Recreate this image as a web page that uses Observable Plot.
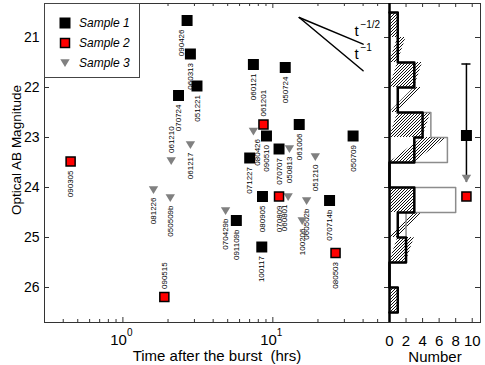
<!DOCTYPE html>
<html><head><meta charset="utf-8">
<script src="https://cdn.jsdelivr.net/npm/d3@7"></script>
<script src="https://cdn.jsdelivr.net/npm/@observablehq/plot@0.6"></script>
<style>
html,body{margin:0;padding:0;background:#fff;}
#wrap{position:relative;width:485px;height:365px;overflow:hidden;font-family:"Liberation Sans",Arial,Helvetica,sans-serif;}
#wrap > svg{position:absolute;top:0;}
#legend{position:absolute;left:44px;top:3px;width:96px;height:75px;border:1px solid #444;background:#fff;box-sizing:border-box;}
.li{position:absolute;left:0;height:16px;display:flex;align-items:center;font-style:italic;font-size:12px;white-space:nowrap;}
.li svg{margin-left:14px;margin-right:8px;}
</style></head><body><div id="wrap"></div>
<script>
// ---------- data ----------
// Sample 1 (black squares)
const s1Names = ["090426","060313","051221","070724","060121","050724","090510","071227","070707","061006","050709","080905","070714b","091109b","100117"];
const s1Time  = [2.68, 2.82, 3.12, 2.35, 7.42, 12.1, 9.07, 7.01, 11.0, 15.0, 34.3, 8.53, 23.9, 5.71, 8.44];
const s1Mag   = [20.66, 21.33, 21.97, 22.16, 21.54, 21.60, 22.97, 23.41, 23.23, 22.74, 22.97, 24.18, 24.26, 24.66, 25.19];
// Sample 2 (red squares)
const s2Names = ["090305","090515","061201","070809","080503"];
const s2Time  = [0.448, 1.89, 8.66, 11.0, 26.2];
const s2Mag   = [23.48, 26.19, 22.74, 24.18, 25.31];
// Sample 3 (grey triangles, upper limits)
const s3Names = ["061210","061217","081226","050509b","080426","050813","051210","060801","060502b","070429b","100206"];
const s3Time  = [2.10, 2.82, 1.60, 2.07, 7.42, 12.9, 19.2, 12.65, 16.8, 4.84, 15.7];
const s3Mag   = [23.47, 23.15, 24.05, 24.21, 22.88, 23.23, 23.39, 24.19, 24.27, 24.47, 24.67];
const labelsAbove = ["061210","061201","090515"];
// small sideways nudges (px) for crowded labels
const labelNudgeNames = ["090426","080426","060801"];
const labelNudgePx = [-6, 4, -4];

// Legend
const legendLabels = ["Sample 1","Sample 2","Sample 3"];

// Decay slope guides
const slopeT = [15, 40];
const slopeIdx = [0.5, 1];
const slopeMag0 = 20.6;
const slopeLabelT = [35, 35];
const slopeLabelMag = [20.96, 21.43];
const slopeLabelBase = ["t","t"];
const slopeLabelExp = ["\u22121/2","\u22121"];

// Histogram bins
const magBins = [20.5,21,21.5,22,22.5,23,23.5,24,24.5,25,25.5,26,26.5];

// Summary markers (right panel)
const sumCount = 9.3;
const sumMag = [22.96, 23.82, 24.18];   // sample 1, 3, 2
const errTop = 21.53, errBottom = 23.9;

// Axes
const xMajor = [1, 10];
const xMinor = [0.3,0.4,0.5,0.6,0.7,0.8,0.9,2,3,4,5,6,7,8,9,20,30,40,50,60];
const xTickBase = ["10","10"];
const xTickExp = ["0","1"];
const yTicks = [21,22,23,24,25,26];
const countTicks = [0,2,4,6,8,10];
const xTitle = "Time after the burst\u00a0 (hrs)";
const yTitle = "Optical AB Magnitude";
const histTitle = "Number";

// ---------- build ----------
const FONT = '"Liberation Sans", Arial, Helvetica, sans-serif';
const H = 365, mt = 3, mb = 43;
const frameH = H - mt - mb;
const W = 390, ml = 44, mr = 1, frameW = W - ml - mr;
const yDomain = [26.7, 20.32];

const s1 = s1Names.map((n,i)=>({name:n, t:s1Time[i], mag:s1Mag[i], sample:1}));
const s2 = s2Names.map((n,i)=>({name:n, t:s2Time[i], mag:s2Mag[i], sample:2}));
const s3 = s3Names.map((n,i)=>({name:n, t:s3Time[i], mag:s3Mag[i], sample:3}));
const rows = [...s1, ...s2, ...s3];

const triDown = {draw(ctx, size){ const k = Math.sqrt(size/Math.PI); ctx.moveTo(-k,-0.8*k); ctx.lineTo(k,-0.8*k); ctx.lineTo(0,0.85*k); ctx.closePath(); }};

// label marks (grouped by placement and nudge)
const labelMarks = [];
const nudgeOf = n => { const i = labelNudgeNames.indexOf(n); return i < 0 ? 0 : labelNudgePx[i]; };
const groups = d3.groups(rows, d => [labelsAbove.includes(d.name) ? "a" : (d.sample === 3 ? "t" : "s"), nudgeOf(d.name)].join("|"));
for (const [key, data] of groups) {
  const [kind, nd] = key.split("|");
  const above = kind === "a";
  labelMarks.push(Plot.text(data, {
    x: "t", y: "mag", text: "name", rotate: -90, fontSize: 8,
    textAnchor: above ? "start" : "end",
    dy: above ? -8 : (kind === "t" ? 7.5 : 9),
    dx: +nd
  }));
}

const slopeRows = [];
slopeIdx.forEach(a => slopeT.forEach(t => slopeRows.push({a, t, mag: slopeMag0 + 2.5*a*Math.log10(t/slopeT[0])})));
const slopeLabels = slopeLabelT.map((t,i)=>({t, mag:slopeLabelMag[i], base:slopeLabelBase[i], exp:slopeLabelExp[i]}));

const tickStroke = "#333";
const main = Plot.plot({
  width: W, height: H, marginLeft: ml, marginRight: mr, marginTop: mt, marginBottom: mb,
  style: {background: "transparent", overflow: "visible", fontFamily: FONT},
  x: {type: "log", domain: [0.3, 60], axis: null},
  y: {domain: yDomain, axis: null},
  marks: [
    Plot.frame({stroke: tickStroke}),
    Plot.tickX(xMajor, {x: d=>d, insetTop: frameH-5, stroke: tickStroke}),
    Plot.tickX(xMajor, {x: d=>d, insetBottom: frameH-5, stroke: tickStroke}),
    Plot.tickX(xMinor, {x: d=>d, insetTop: frameH-3, stroke: tickStroke}),
    Plot.tickX(xMinor, {x: d=>d, insetBottom: frameH-3, stroke: tickStroke}),
    Plot.tickY(yTicks, {y: d=>d, insetRight: frameW-5, stroke: tickStroke}),
    Plot.tickY(yTicks, {y: d=>d, insetLeft: frameW-5, stroke: tickStroke}),
    Plot.text(yTicks, {y: d=>d, text: d=>String(d), frameAnchor: "left", textAnchor: "end", dx: -5, fontSize: 14}),
    Plot.text(xMajor, {x: d=>d, text: (d,i)=>xTickBase[i], frameAnchor: "bottom", textAnchor: "end", lineAnchor: "bottom", dx: 4, dy: 22, fontSize: 15}),
    Plot.text(xMajor, {x: d=>d, text: (d,i)=>xTickExp[i], frameAnchor: "bottom", textAnchor: "start", lineAnchor: "bottom", dx: 4, dy: 13, fontSize: 10}),
    Plot.text([xTitle], {text: d=>d, frameAnchor: "bottom", textAnchor: "middle", lineAnchor: "bottom", dy: 38, fontSize: 15}),
    Plot.text([yTitle], {text: d=>d, frameAnchor: "left", textAnchor: "middle", lineAnchor: "middle", rotate: -90, dx: -28, dy: -13, fontSize: 13.5}),
    Plot.line(slopeRows, {x: "t", y: "mag", z: "a", stroke: "black", strokeWidth: 1.5}),
    Plot.text(slopeLabels, {x: "t", y: "mag", text: "base", textAnchor: "start", lineAnchor: "bottom", fontSize: 15}),
    Plot.text(slopeLabels, {x: "t", y: "mag", text: "exp", textAnchor: "start", lineAnchor: "bottom", dx: 6, dy: -8, fontSize: 10}),
    ...labelMarks,
    Plot.dot(s3, {x: "t", y: "mag", symbol: triDown, r: 4.7, fill: "#808080"}),
    Plot.dot(s1, {x: "t", y: "mag", symbol: "square", r: 6.2, fill: "black"}),
    Plot.dot(s2, {x: "t", y: "mag", symbol: "square", r: 5.1, fill: "#ff0000", stroke: "black", strokeWidth: 1.5})
  ]
});
main.style.left = "0px";

// histogram outlines
function outline(values){
  const bins = d3.bin().domain([magBins[0], magBins[magBins.length-1]]).thresholds(magBins)(values);
  const pts = [{c:0, m:magBins[0]}];
  for (const b of bins){ pts.push({c:b.length, m:b.x0}); pts.push({c:b.length, m:b.x1}); }
  pts.push({c:0, m:magBins[magBins.length-1]});
  return pts;
}
const blackPts = outline([...s1Mag, ...s2Mag]);
const grayPts = outline([...s1Mag, ...s2Mag, ...s3Mag]);

const HW = 116, hml = 20, hmr = 5, hFrameW = HW - hml - hmr;
const sumRows = [
  {c: sumCount, mag: sumMag[0], s: 1},
  {c: sumCount, mag: sumMag[1], s: 3},
  {c: sumCount, mag: sumMag[2], s: 2}
];
const hist = Plot.plot({
  width: HW, height: H, marginLeft: hml, marginRight: hmr, marginTop: mt, marginBottom: mb,
  style: {background: "transparent", overflow: "visible", fontFamily: FONT},
  x: {domain: [0, 11], axis: null},
  y: {domain: yDomain, axis: null},
  marks: [
    Plot.areaX(blackPts, {x: "c", y: "m", fill: "url(#hatch)"}),
    Plot.line(grayPts, {x: "c", y: "m", stroke: "#8c8c8c", strokeWidth: 1.5}),
    Plot.line(blackPts, {x: "c", y: "m", stroke: "black", strokeWidth: 2.5}),
    Plot.frame({stroke: tickStroke}),
    Plot.ruleX([0], {x: d=>d, stroke: "black", strokeWidth: 2.5}),
    Plot.tickX(countTicks.slice(1), {x: d=>d, insetTop: frameH-4, stroke: tickStroke}),
    Plot.tickX(countTicks.slice(1), {x: d=>d, insetBottom: frameH-4, stroke: tickStroke}),
    Plot.tickY(yTicks, {y: d=>d, insetLeft: hFrameW-5, stroke: tickStroke}),
    Plot.text(countTicks, {x: d=>d, text: d=>String(d), frameAnchor: "bottom", textAnchor: "middle", lineAnchor: "bottom", dy: 23, fontSize: 15}),
    Plot.text([histTitle], {text: d=>d, frameAnchor: "bottom", textAnchor: "middle", lineAnchor: "bottom", dy: 39, fontSize: 15}),
    Plot.ruleX([sumCount], {x: d=>d, y1: errTop, y2: errBottom, stroke: "black", strokeWidth: 1.5}),
    Plot.ruleY([errTop], {y: d=>d, x1: sumCount-0.55, x2: sumCount+0.55, stroke: "black", strokeWidth: 1.5}),
    Plot.dot(sumRows.filter(d=>d.s===3), {x: "c", y: "mag", symbol: triDown, r: 4.7, fill: "#808080"}),
    Plot.dot(sumRows.filter(d=>d.s===1), {x: "c", y: "mag", symbol: "square", r: 6.2, fill: "black"}),
    Plot.dot(sumRows.filter(d=>d.s===2), {x: "c", y: "mag", symbol: "square", r: 5.1, fill: "#ff0000", stroke: "black", strokeWidth: 1.5})
  ]
});
hist.style.left = (W - 1 - hml) + "px";
// hatch pattern: crisp pixel diagonal "/" lines
const defs = d3.select(hist).insert("defs", ":first-child");
const pat = defs.append("pattern").attr("id", "hatch").attr("patternUnits", "userSpaceOnUse")
  .attr("width", 3).attr("height", 3);
pat.append("rect").attr("width", 3).attr("height", 3).attr("fill", "white");
[[2,0],[1,1],[0,2]].forEach(([px,py]) => pat.append("rect").attr("x", px).attr("y", py).attr("width", 1).attr("height", 1).attr("fill", "#111"));

const wrap = document.getElementById("wrap");
wrap.appendChild(main);
wrap.appendChild(hist);

// legend
const leg = document.createElement("div");
leg.id = "legend";
const centers = [19.3, 38.7, 58.7];
legendLabels.forEach((lab, i) => {
  const it = document.createElement("div");
  it.className = "li";
  it.style.top = (centers[i] - 8) + "px";
  let sym;
  if (i === 0) sym = '<svg width="12" height="12"><rect x="0.5" y="0.5" width="11" height="11" fill="black"/></svg>';
  else if (i === 1) sym = '<svg width="12" height="12"><rect x="1.5" y="1.5" width="9" height="9" fill="#ff0000" stroke="black" stroke-width="1.5"/></svg>';
  else sym = '<svg width="12" height="12"><path d="M1.3,2.2 L10.7,2.2 L6,10 Z" fill="#808080"/></svg>';
  it.innerHTML = sym + '<span>' + lab + '</span>';
  leg.appendChild(it);
});
wrap.appendChild(leg);
</script></body></html>
